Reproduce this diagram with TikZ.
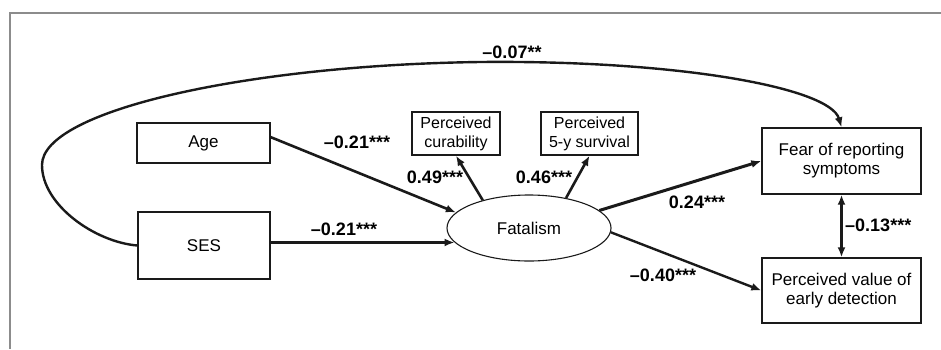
\documentclass[tikz,border=0pt]{standalone}
\usepackage{fontspec}
\setmainfont{Liberation Sans}
\usepackage{xcolor}
\usepackage{tikz}
\usetikzlibrary{arrows.meta,positioning,shapes.geometric}
\definecolor{ink}{HTML}{1A1A1A}
\definecolor{frameline}{HTML}{8C8C8C}

\begin{document}
\begin{tikzpicture}[x=1pt,y=-1pt,>={Latex[length=10pt,width=8pt]},
  box/.style={draw=ink,line width=1.4pt,fill=white,inner sep=0pt,align=center,font=\fontsize{17}{19}\selectfont},
  smallbox/.style={box,font=\fontsize{16}{19}\selectfont},
  coef/.style={inner sep=0pt,font=\fontsize{18}{20}\selectfont\bfseries},
  link/.style={->,draw=ink,line width=2.6pt}]
\useasboundingbox (0,0) rectangle (941,349);
\draw[frameline,line width=2.5pt] (941,13) -- (10,13) -- (10,349);
\node[box,minimum width=133pt,minimum height=40pt] (age) at (203.5,143) {Age};
\node[box,minimum width=132pt,minimum height=67pt] (ses) at (204,245.5) {SES};
\node[draw=ink,ellipse,line width=1.1pt,inner sep=0pt,minimum width=164pt,minimum height=66pt,font=\fontsize{17}{19}\selectfont] (fatal) at (529,228) {Fatalism};
\node[smallbox,minimum width=88pt,minimum height=43pt] (cure) at (456,133.5) {Perceived\\curability};
\node[smallbox,minimum width=97pt,minimum height=43pt] (surv) at (589.5,133.5) {Perceived\\5-y survival};
\node[box,minimum width=159pt,minimum height=66pt] (fear) at (841.5,161) {Fear of reporting\\symptoms};
\node[box,minimum width=159pt,minimum height=65pt] (value) at (841.5,290.5) {Perceived value of\\early detection};
\draw[link] (age.5) -- (fatal.168);
\draw[link,line width=3.6pt] (fatal.191 -| ses.east) -- (fatal.191);
\draw[link] (fatal.149) -- (cure.south);
\draw[link] (fatal.39) -- (surv.south);
\draw[link,line width=3pt] (fatal.14) -- (fear.west);
\draw[link,line width=2.4pt] (fatal.-3) -- (value.west);
\draw[link,<->] (fear.south) -- (value.north);
\draw[ink,line width=2.4pt,->] (ses.west) .. controls (95,242) and (42,205) .. (42,165)
  .. controls (42,110) and (250,65) .. (480,62)
  .. controls (680,60) and (830,88) .. (fear.north);
\node[coef] (kage) at (357,142) {–0.21***};
\node[coef] (kses) at (344,229) {–0.21***};
\node[coef] (kcure) at (435,177) {0.49***};
\node[coef] (ksurv) at (544,177) {0.46***};
\node[coef] (kfear) at (697,202) {0.24***};
\node[coef] (kvalue) at (663,275) {–0.40***};
\node[coef,anchor=west] (kpair) at (845,225) {–0.13***};
\node[coef] (kdirect) at (512,52) {–0.07**};
\end{tikzpicture}
\end{document}
